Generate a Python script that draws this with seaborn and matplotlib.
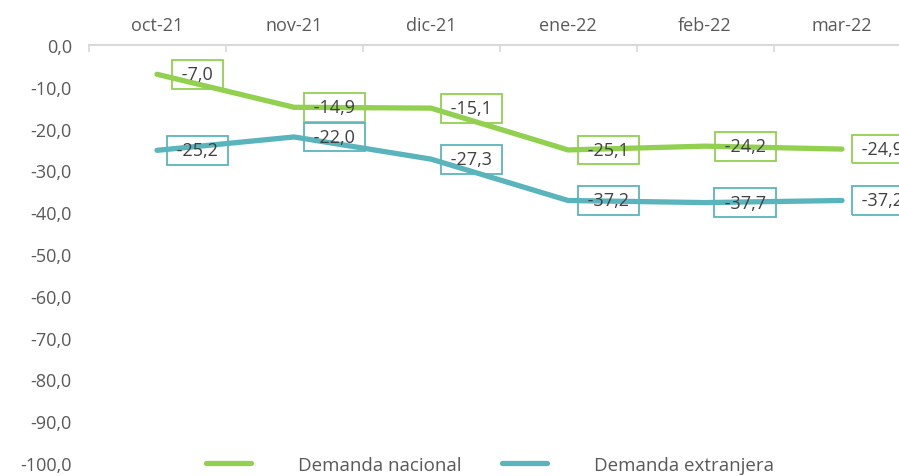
import matplotlib
matplotlib.use("Agg")
import matplotlib.pyplot as plt
import seaborn as sns
import pandas as pd

months = ["oct-21", "nov-21", "dic-21", "ene-22", "feb-22", "mar-22"]
demanda_nacional = [-7.0, -14.9, -15.1, -25.1, -24.2, -24.9]
demanda_extranjera = [-25.2, -22.0, -27.3, -37.2, -37.7, -37.2]
series_names = ["Demanda nacional", "Demanda extranjera"]
y_ticks = [0, -10, -20, -30, -40, -50, -60, -70, -80, -90, -100]

colors = {"Demanda nacional": "#92D050", "Demanda extranjera": "#5AB4BC"}

df = pd.DataFrame({
    "mes": months * 2,
    "valor": demanda_nacional + demanda_extranjera,
    "serie": [series_names[0]] * len(months) + [series_names[1]] * len(months),
})

sns.set_theme(style="white")
plt.rcParams["font.family"] = ["Open Sans", "DejaVu Sans"]

fig = plt.figure(figsize=(8.99, 4.77), dpi=100)
ax = fig.add_axes([88.5 / 899, 1 - 464 / 477, 822 / 899, 418 / 477])

sns.lineplot(data=df, x="mes", y="valor", hue="serie", palette=colors,
             linewidth=3.8, sort=False, ax=ax, legend=True)
for line in ax.lines:
    line.set_solid_capstyle("round")

ax.set_xlim(-0.5, 5.5)
ax.set_ylim(-100, 0)
ax.set_yticks(y_ticks)
ax.set_yticklabels([f"{v:.1f}".replace(".", ",") for v in y_ticks],
                   color="#595959", fontsize=13)
ax.tick_params(axis="y", length=0, pad=12)

ax.xaxis.tick_top()
ax.set_xticks(range(len(months)))
ax.set_xticklabels(months, color="#595959", fontsize=13)
ax.tick_params(axis="x", length=0, pad=8)
# minor ticks between the categories on the top axis line
ax.set_xticks([i - 0.5 for i in range(len(months) + 1)], minor=True)
ax.tick_params(axis="x", which="minor", top=True, bottom=False, direction="in",
               length=5, color="#D9D9D9", width=1.2)
ax.set_xlabel("")
ax.set_ylabel("")

for side in ["left", "right", "bottom"]:
    ax.spines[side].set_visible(False)
ax.spines["top"].set_color("#D9D9D9")
ax.spines["top"].set_linewidth(1.5)

for vals, name in [(demanda_nacional, series_names[0]), (demanda_extranjera, series_names[1])]:
    for i, v in enumerate(vals):
        label = " " + f"{v:.1f}".replace(".", ",") + " "
        ax.annotate(label, xy=(i, v), xytext=(29, 0),
                    textcoords="offset points", ha="center", va="center",
                    fontsize=13, color="#404040", annotation_clip=False,
                    bbox=dict(boxstyle="square,pad=0.3", fc="none",
                              ec=colors[name], lw=1.3))

handles, labels = ax.get_legend_handles_labels()
ax.get_legend().remove()
fig.legend(handles, labels, loc="center", bbox_to_anchor=(490 / 899, 1 - 466 / 477),
           ncol=2, frameon=False, fontsize=13.5, handlelength=2.4,
           handletextpad=2.5, columnspacing=2.2, labelcolor="#595959")

fig.savefig("out.png", dpi=100)
